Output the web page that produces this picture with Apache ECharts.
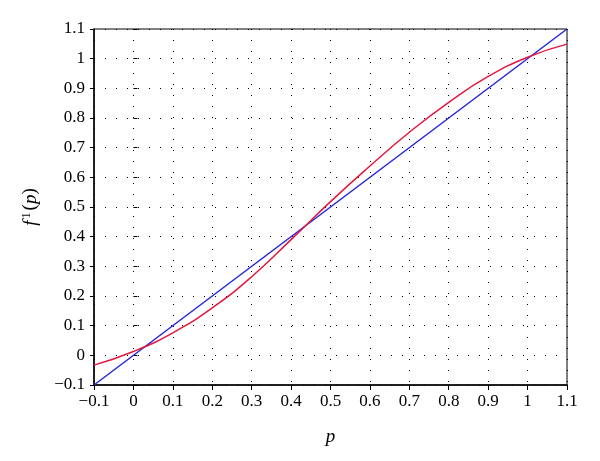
<!DOCTYPE html>
<html><head><meta charset="utf-8">
<script src="https://cdn.jsdelivr.net/npm/echarts@6/dist/echarts.min.js"></script>
<style>html,body{margin:0;padding:0;background:#fff}#c{width:600px;height:461px}</style>
</head><body><div id="c"></div>
<script>
var pValues = [-0.1,0,0.1,0.2,0.3,0.4,0.5,0.6,0.7,0.8,0.9,1.0,1.1];
var redValues = [-0.033,0.013,0.076,0.16,0.265,0.39,0.518,0.638,0.752,0.853,0.94,1.005,1.049];
var blueP = [-0.1, 1.1];
var blueValues = [-0.1, 1.1];
var axisMin = -0.1, axisMax = 1.1, step = 0.1;

function fmt(v){ var r = Math.round(v*10)/10; var s = String(Math.abs(r)); return (r<0?'\u2212':'')+s; }
var font = 'Liberation Serif';
var chart = echarts.init(document.getElementById('c'));
var redData = pValues.map(function(p,i){return [p, redValues[i]];});
var blueData = blueP.map(function(p,i){return [p, blueValues[i]];});
chart.setOption({
  animation:false,
  grid:{left:94,right:33,top:29,bottom:76,show:true,borderColor:'#000',borderWidth:1},
  xAxis:[{
    type:'value',min:axisMin,max:axisMax,interval:step,
    name:'p',nameLocation:'middle',nameGap:42,
    nameTextStyle:{fontFamily:font,fontStyle:'italic',fontSize:19,color:'#000'},
    axisLine:{show:true,onZero:false,lineStyle:{color:'#000',width:1.5}},
    axisTick:{show:true,inside:false,length:5,lineStyle:{color:'#000'}},
    axisLabel:{formatter:fmt,fontFamily:font,fontSize:17,color:'#000',margin:8},
    splitLine:{show:true,lineStyle:{color:'#000',type:[1,10],width:1}}
  }],
  yAxis:[{
    type:'value',min:axisMin,max:axisMax,interval:step,
    name:'{i|f}{s|1}{n|(}{i|p}{n|)}',nameLocation:'middle',nameGap:54,nameRotate:90,
    nameTextStyle:{rich:{
      i:{fontFamily:font,fontStyle:'italic',fontSize:19,color:'#000'},
      n:{fontFamily:font,fontSize:19,color:'#000'},
      s:{fontFamily:font,fontSize:12,color:'#000',verticalAlign:'top',padding:[0,2,0,2]}
    }},
    axisLine:{show:true,onZero:false,lineStyle:{color:'#000',width:1.5}},
    axisTick:{show:true,inside:false,length:4,lineStyle:{color:'#000'}},
    axisLabel:{formatter:fmt,fontFamily:font,fontSize:17,color:'#000',margin:9},
    splitLine:{show:true,lineStyle:{color:'#000',type:[1,10],width:1}}
  },{
    type:'value',min:axisMin,max:axisMax,interval:step,position:'left',
    axisLine:{show:false},axisLabel:{show:false},splitLine:{show:false},
    axisTick:{show:true,inside:true,length:4,lineStyle:{color:'#000'}}
  }],
  series:[{
    type:'line',data:blueData,showSymbol:false,
    lineStyle:{color:'#2424d8',width:1.5},z:3
  },{
    type:'line',data:redData,smooth:true,showSymbol:false,
    lineStyle:{color:'#e2173f',width:1.5},z:4
  }]
});
</script></body></html>
